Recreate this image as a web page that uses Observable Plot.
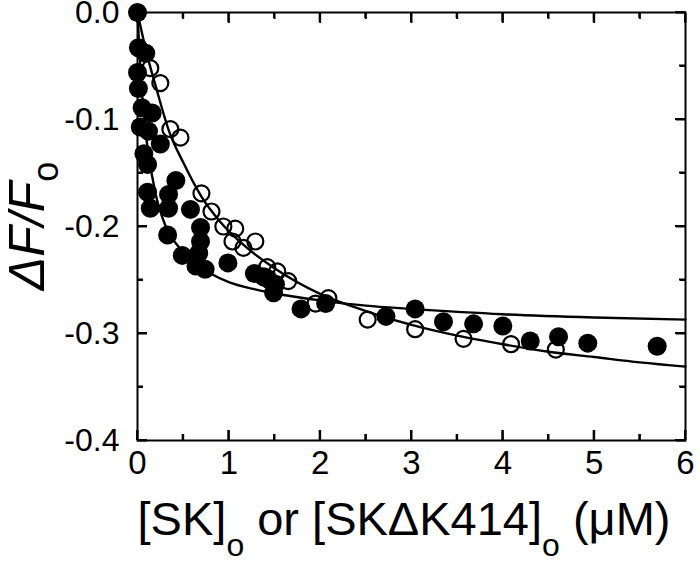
<!DOCTYPE html>
<html><head><meta charset="utf-8">
<script src="https://cdn.jsdelivr.net/npm/d3@7"></script>
<script src="https://cdn.jsdelivr.net/npm/@observablehq/plot@0.6"></script>
<style>body{margin:0;background:#fff}#chart svg{display:block}</style>
</head><body><div id="chart"></div>
<script>
// SK (filled circles)
const skX = [0.00,0.01,0.09,0.00,0.01,0.05,0.16,0.03,0.12,0.25,0.07,0.11,0.42,0.11,0.34,0.14,0.34,0.58,0.69,0.33,0.69,0.49,0.67,0.64,0.74,0.99,1.28,1.38,1.43,1.51,1.49,1.79,2.06,2.72,3.04,3.35,3.68,4.00,4.30,4.61,4.93,5.69];
const skY = [0.000,-0.033,-0.038,-0.056,-0.071,-0.089,-0.094,-0.107,-0.111,-0.123,-0.132,-0.142,-0.157,-0.168,-0.170,-0.183,-0.183,-0.184,-0.201,-0.208,-0.214,-0.227,-0.225,-0.237,-0.240,-0.234,-0.244,-0.247,-0.249,-0.254,-0.262,-0.277,-0.272,-0.284,-0.277,-0.289,-0.291,-0.293,-0.307,-0.303,-0.309,-0.312];
// SKΔK414 (open circles)
const dkX = [0.14,0.25,0.36,0.47,0.70,0.81,0.94,1.07,1.29,1.04,1.16,1.42,1.53,1.65,1.95,2.09,2.52,3.04,3.57,4.09,4.58];
const dkY = [-0.052,-0.066,-0.109,-0.117,-0.169,-0.186,-0.200,-0.202,-0.214,-0.214,-0.220,-0.238,-0.242,-0.251,-0.272,-0.267,-0.287,-0.296,-0.305,-0.310,-0.315];
// fitted curves
const fitSKX = [0,0.02,0.05,0.1,0.2,0.3,0.45,0.6,0.8,1.0,1.3,1.6,2.0,2.5,3,4,5,6];
const fitSKY = [0,-0.035,-0.075,-0.12,-0.17,-0.198,-0.219,-0.232,-0.244,-0.252,-0.259,-0.264,-0.269,-0.274,-0.277,-0.282,-0.285,-0.287];
const fitDKX = [0,0.1,0.2,0.35,0.5,0.7,0.9,1.2,1.5,2,2.5,3,3.5,4,4.5,5,5.5,6];
const fitDKY = [0,-0.038,-0.069,-0.112,-0.140,-0.172,-0.195,-0.220,-0.239,-0.263,-0.279,-0.292,-0.302,-0.310,-0.317,-0.322,-0.327,-0.331];
// ticks
const xMajor = [0,1,2,3,4,5,6];
const xMinor = [0.5,1.5,2.5,3.5,4.5,5.5];
const yMajor = [0,-0.1,-0.2,-0.3,-0.4];
const yMinor = [-0.05,-0.15,-0.25,-0.35];

const W = 700, H = 564;
const mL = 137, mR = 15, mT = 12, mB = 124;
const majLen = 10, minLen = 6;

const sk = skX.map((x,i)=>({x, y: skY[i]}));
const dk = dkX.map((x,i)=>({x, y: dkY[i]}));
const fSK = fitSKX.map((x,i)=>({x, y: fitSKY[i]}));
const fDK = fitDKX.map((x,i)=>({x, y: fitDKY[i]}));

const noText = () => "";
const inward = [];
for (const anchor of ["bottom","top"]) {
  inward.push(Plot.axisX({anchor, ticks: xMajor, tickSize: -majLen, tickFormat: noText, strokeWidth: 2, stroke:"#000", label:null}));
  inward.push(Plot.axisX({anchor, ticks: xMinor, tickSize: -minLen, tickFormat: noText, strokeWidth: 2, stroke:"#000", label:null}));
}
for (const anchor of ["left","right"]) {
  inward.push(Plot.axisY({anchor, ticks: yMajor, tickSize: -majLen, tickFormat: noText, strokeWidth: 2, stroke:"#000", label:null}));
  inward.push(Plot.axisY({anchor, ticks: yMinor, tickSize: -minLen, tickFormat: noText, strokeWidth: 2, stroke:"#000", label:null}));
}

const chart = Plot.plot({
  width: W, height: H,
  marginLeft: mL, marginRight: mR, marginTop: mT, marginBottom: mB,
  style: {fontFamily: "'Liberation Sans', Arial, sans-serif", color: "#000", background: "#fff", overflow: "visible"},
  x: {domain: [0,6], axis: null},
  y: {domain: [-0.4,0], axis: null},
  marks: [
    Plot.line(fSK, {x:"x", y:"y", curve:"monotone-x", stroke:"#000", strokeWidth:2.4}),
    Plot.line(fDK, {x:"x", y:"y", curve:"monotone-x", stroke:"#000", strokeWidth:2.4}),
    Plot.dot(sk, {x:"x", y:"y", r:9.5, fill:"#000", stroke:"none"}),
    Plot.dot(dk, {x:"x", y:"y", r:8, fill:"none", stroke:"#000", strokeWidth:2.2}),
    Plot.frame({stroke:"#000", strokeWidth:2}),
    ...inward,
    Plot.axisX({ticks: xMajor, tickSize:0, tickPadding:10, fontSize:33, tickFormat: d=>String(d), label:null}),
    Plot.axisY({ticks: yMajor, tickSize:0, tickPadding:18, fontSize:32, tickFormat: d=>d.toFixed(1), label:null})
  ]
});

const svgNode = chart.tagName.toLowerCase() === "svg" ? chart : chart.querySelector("svg");
const svg = d3.select(svgNode);

// inward tick marks, placed with Plot's own x and y scales
const sxD = chart.scale("x"), syD = chart.scale("y");
const sxF = d3.scaleLinear(sxD.domain, sxD.range);
const syF = d3.scaleLinear(syD.domain, syD.range);
const xLeftPx = Math.min(...sxD.range), xRightPx = Math.max(...sxD.range);
const yBottomPx = Math.max(...syD.range), yTopPx = Math.min(...syD.range);
const tg = svg.append("g").attr("stroke", "#000").attr("stroke-width", 2);
const xTickList = xMajor.map(v=>[v, majLen]).concat(xMinor.map(v=>[v, minLen]));
const yTickList = yMajor.map(v=>[v, majLen]).concat(yMinor.map(v=>[v, minLen]));
for (const [v, len] of xTickList) {
  tg.append("line").attr("x1", sxF(v)).attr("x2", sxF(v)).attr("y1", yBottomPx).attr("y2", yBottomPx - len);
  tg.append("line").attr("x1", sxF(v)).attr("x2", sxF(v)).attr("y1", yTopPx).attr("y2", yTopPx + len);
}
for (const [v, len] of yTickList) {
  tg.append("line").attr("y1", syF(v)).attr("y2", syF(v)).attr("x1", xLeftPx).attr("x2", xLeftPx + len);
  tg.append("line").attr("y1", syF(v)).attr("y2", syF(v)).attr("x1", xRightPx).attr("x2", xRightPx - len);
}

// x-axis title with subscripts
const xTitle = svg.append("text")
  .attr("x", 404).attr("y", 535)
  .attr("text-anchor", "middle")
  .attr("font-size", 47)
  .attr("fill", "#000");
xTitle.append("tspan").text("[SK]");
xTitle.append("tspan").attr("font-size", 32).attr("dy", 21).text("o");
xTitle.append("tspan").attr("dy", -21).text(" or [SKΔK414]");
xTitle.append("tspan").attr("font-size", 32).attr("dy", 21).text("o");
xTitle.append("tspan").attr("dy", -21).text(" (μM)");
// y-axis title
const yTitle = svg.append("text")
  .attr("transform", "translate(44,226) rotate(-90)")
  .attr("text-anchor", "middle")
  .attr("font-size", 50)
  .attr("fill", "#000");
yTitle.append("tspan").attr("font-style", "italic").text("ΔF/F");
yTitle.append("tspan").attr("font-size", 36).attr("dy", 14).text("o");

document.getElementById("chart").appendChild(chart);
</script>
</body></html>
